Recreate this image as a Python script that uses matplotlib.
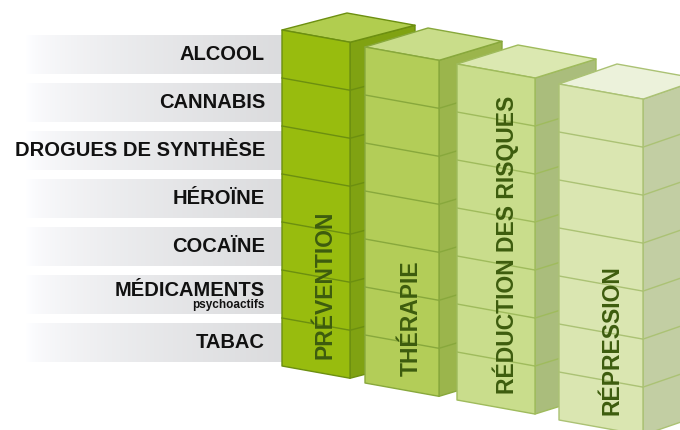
import numpy as np
import matplotlib.pyplot as plt
from matplotlib.patches import Polygon

# substances (rows, top to bottom)
substances = ['ALCOOL', 'CANNABIS', 'DROGUES DE SYNTHÈSE', 'HÉROÏNE',
              'COCAÏNE', 'MÉDICAMENTS', 'TABAC']
sub_notes = ['', '', '', '', '', 'psychoactifs', '']

# approaches (columns, back to front)
approaches = ['PRÉVENTION', 'THÉRAPIE', 'RÉDUCTION DES RISQUES', 'RÉPRESSION']
face_front = ['#98bc0e', '#b3cd58', '#c9dd8c', '#dae6b1']
face_side = ['#80a212', '#9bb54c', '#aabd7c', '#c2cea3']
face_top = ['#b1cd4f', '#c9dd8a', '#dbe8b1', '#ecf2db']
edge_col = ['#6c8f10', '#88a83c', '#9fbb5c', '#abc274']

# geometry in pixels (y grows downward)
col_x = [282, 365, 457, 559]
col_y = [30, 47, 64, 84]
col_w = [68, 74, 78, 84]
col_depth = [(65, -17), (63, -19), (61, -19), (58, -20)]
slope = 0.18
block_h = 48
band_top0, band_h = 35, 39

plt.rcParams['font.family'] = ['Liberation Sans', 'DejaVu Sans']

fig = plt.figure(figsize=(6.8, 4.3), dpi=100)
ax = fig.add_axes([0, 0, 1, 1])
ax.set_xlim(0, 680)
ax.set_ylim(430, 0)
ax.axis('off')

# gray gradient bands behind the row labels
xs = np.linspace(0, 1, 256)
ramp = xs ** 0.6
grad = 1 - ramp * (1 - 0.86)
img = np.dstack([grad, grad + 0.002, grad + 0.01]).clip(0, 1)
img = np.repeat(img, 2, axis=0)
for i, name in enumerate(substances):
    top = band_top0 + i * block_h
    ax.imshow(img, extent=[26, 283, top + band_h, top], aspect='auto', zorder=1)
    if sub_notes[i]:
        ax.text(265, top + 15, name, ha='right', va='center', fontsize=14.5,
                fontweight='bold', color='#111111', zorder=2)
        ax.text(265, top + 30, sub_notes[i], ha='right', va='center', fontsize=8.5,
                fontweight='bold', color='#111111', zorder=2)
    else:
        ax.text(265, top + 20, name, ha='right', va='center', fontsize=14.5,
                fontweight='bold', color='#111111', zorder=2)

n = len(substances)
for c, label in enumerate(approaches):
    x0, y0, w = col_x[c], col_y[c], col_w[c]
    dx, dy = col_depth[c]
    H = n * block_h
    z = 5 + c * 5
    yr = y0 + w * slope
    side = [(x0 + w, yr), (x0 + w + dx, yr + dy), (x0 + w + dx, yr + dy + H), (x0 + w, yr + H)]
    top = [(x0, y0), (x0 + w, yr), (x0 + w + dx, yr + dy), (x0 + dx, y0 + dy)]
    front = [(x0, y0), (x0 + w, yr), (x0 + w, yr + H), (x0, y0 + H)]
    for poly, fc, zz in [(side, face_side[c], z), (top, face_top[c], z + 1), (front, face_front[c], z + 2)]:
        ax.add_patch(Polygon(poly, closed=True, facecolor=fc, edgecolor=edge_col[c],
                             lw=1.0, joinstyle='round', zorder=zz))
    for k in range(1, n):
        ax.plot([x0, x0 + w], [y0 + k * block_h, yr + k * block_h],
                color=edge_col[c], lw=1.0, zorder=z + 3)
        ax.plot([x0 + w, x0 + w + dx], [yr + k * block_h, yr + dy + k * block_h],
                color=edge_col[c], lw=1.0, zorder=z + 3)
    tx = x0 + 0.63 * w
    ty = y0 + H + (tx - x0) * slope - 15
    ax.text(tx, ty, label, rotation=90, ha='center', va='bottom', fontsize=16.5,
            fontweight='bold', color='#3d5c0e', zorder=z + 4)

fig.savefig('out.png', dpi=100)
